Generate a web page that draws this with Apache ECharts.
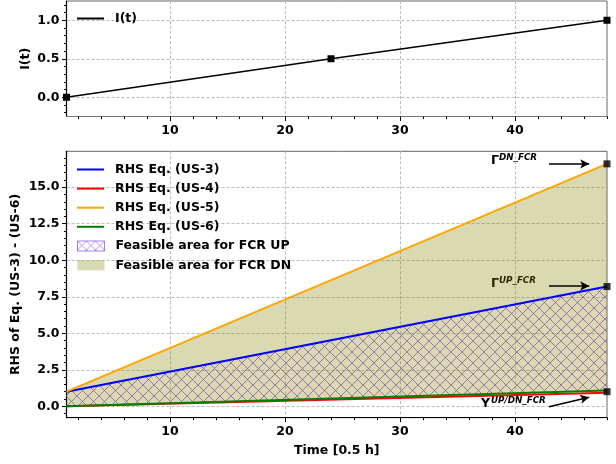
<!DOCTYPE html>
<html><head><meta charset="utf-8">
<script src="https://cdn.jsdelivr.net/npm/echarts@6/dist/echarts.min.js"></script>
<style>html,body{margin:0;padding:0;background:#fff}#c{width:616px;height:464px}</style>
</head><body><div id="c"></div>
<script>
// ---- data ----
const timeTop = [1, 24, 48];
const iT = [0.0, 0.5, 1.0];
const timeBot = [1, 48];
const us3 = [1.0, 8.2];
const us4 = [0.0, 0.92];
const us5 = [1.0, 16.6];
const us6 = [0.0, 1.08];
const markTime = [48, 48, 48];
const markVal = [16.6, 8.2, 1.0];
const xTickLabels = [10, 20, 30, 40];
const yTopTickLabels = [0.0, 0.5, 1.0];
const yBotTickLabels = [0.0, 2.5, 5.0, 7.5, 10.0, 12.5, 15.0];
const lineNames = ['RHS Eq. (US-3)', 'RHS Eq. (US-4)', 'RHS Eq. (US-5)', 'RHS Eq. (US-6)'];
const areaNames = ['Feasible area for FCR UP', 'Feasible area for FCR DN'];

// ---- helpers ----
const FONT = 'DejaVu Sans';
const pts = (xs, ys) => xs.map((x, i) => [x, ys[i]]);
function range(a, b, s, skip) { const r = []; for (let k = 0; a + k * s <= b + 1e-9; k++) { const v = +(a + k * s).toFixed(4); if (!skip.some(m => Math.abs(m - v) < 1e-6)) r.push(v); } return r; }
const xMinor = range(2, 48, 2, xTickLabels);
const yTopMinor = range(-0.2, 1.2, 0.1, yTopTickLabels);
const yBotMinor = range(-0.5, 17.0, 0.5, yBotTickLabels);

function hatch(size, color, lw, bg) {
  const c = document.createElement('canvas'); c.width = c.height = size;
  const g = c.getContext('2d');
  if (bg) { g.fillStyle = bg; g.fillRect(0, 0, size, size); }
  g.strokeStyle = color; g.lineWidth = lw; g.beginPath();
  g.moveTo(-1, -1); g.lineTo(size + 1, size + 1);
  g.moveTo(size + 1, -1); g.lineTo(-1, size + 1);
  g.stroke(); return c;
}
const hatchPlot = { image: hatch(11, 'rgba(140,80,170,0.75)', 1), repeat: 'repeat' };
const hatchLegend = { image: hatch(9, 'rgba(150,90,230,0.65)', 1, '#fff'), repeat: 'repeat' };
const OLIVE = 'rgba(128,128,0,0.3)';

const grids = [
  { left: 66.5, right: 9, top: 1, height: 115.5, show: true, borderColor: '#666', borderWidth: 1, backgroundColor: 'transparent' },
  { left: 66.5, right: 9, top: 151.3, height: 266.4, show: true, borderColor: '#666', borderWidth: 1, backgroundColor: 'transparent' }
];
const labelStyle = { color: '#000', fontWeight: 'bold', fontSize: 12.5, fontFamily: FONT };
const gridLine = { show: true, lineStyle: { color: '#bbb', type: [3, 2], width: 1 } };

function xMajor(gi, name, lineColor) {
  return { type: 'value', gridIndex: gi, min: 1, max: 48, position: 'bottom',
    name: name, nameLocation: 'middle', nameGap: 27, nameTextStyle: labelStyle,
    axisLine: { show: true, onZero: false, lineStyle: { color: lineColor, width: 1.2 } },
    axisTick: { show: true, length: 4.5, customValues: xTickLabels, lineStyle: { color: '#000' } },
    axisLabel: { ...labelStyle, margin: 8, customValues: xTickLabels, formatter: v => String(v) },
    splitLine: gridLine };
}
function xMinorAx(gi) {
  return { type: 'value', gridIndex: gi, min: 1, max: 48, position: 'bottom',
    axisLine: { show: false, onZero: false },
    axisTick: { show: true, length: 2.5, customValues: xMinor, lineStyle: { color: '#000' } },
    axisLabel: { show: false }, splitLine: { show: false } };
}
function yMajor(gi, min, max, ticks, name, gap) {
  return { type: 'value', gridIndex: gi, min: min, max: max, position: 'left',
    name: name, nameLocation: 'middle', nameGap: gap, nameRotate: 90, nameTextStyle: labelStyle,
    nameMoveOverlap: false,
    axisLine: { show: true, onZero: false, lineStyle: { color: '#000', width: 1.2 } },
    axisTick: { show: true, length: 4.5, customValues: ticks, lineStyle: { color: '#000' } },
    axisLabel: { ...labelStyle, margin: 7, customValues: ticks, formatter: v => (+v).toFixed(1) },
    splitLine: gridLine };
}
function yMinorAx(gi, min, max, ticks) {
  return { type: 'value', gridIndex: gi, min: min, max: max, position: 'left',
    axisLine: { show: false, onZero: false },
    axisTick: { show: true, length: 2.5, customValues: ticks, lineStyle: { color: '#000' } },
    axisLabel: { show: false }, splitLine: { show: false } };
}

// filled band between two lines, drawn through the axis scales
function band(name, lower, upper, fill, z) {
  return { name: name, type: 'custom', coordinateSystem: 'cartesian2d', xAxisIndex: 2, yAxisIndex: 2,
    silent: true, z: z, data: [[timeBot[0], upper[0]]], itemStyle: { color: '#999' },
    renderItem: function (params, api) {
      const top = timeBot.map((t, i) => api.coord([t, upper[i]]));
      const bot = timeBot.map((t, i) => api.coord([t, lower[i]])).reverse();
      return { type: 'polygon', shape: { points: top.concat(bot) }, style: { fill: fill, stroke: null } };
    } };
}

const legendText = { ...labelStyle, padding: [0, 0, 0, 6] };

const option = {
  animation: false,
  backgroundColor: '#fff',
  grid: grids,
  xAxis: [xMajor(0, '', '#777'), xMinorAx(0), xMajor(1, 'Time [0.5 h]', '#000'), xMinorAx(1)],
  yAxis: [
    yMajor(0, -0.25, 1.25, yTopTickLabels, 'I(t)', 34), yMinorAx(0, -0.25, 1.25, yTopMinor),
    yMajor(1, -0.78, 17.46, yBotTickLabels, 'RHS of Eq. (US-3) - (US-6)', 44), yMinorAx(1, -0.78, 17.46, yBotMinor)
  ],
  legend: [
    { data: [{ name: 'I(t)', icon: 'rect', itemStyle: { color: '#000' } }], orient: 'vertical', left: 77, top: 12, padding: 0,
      itemWidth: 27, itemHeight: 2, itemGap: 6, textStyle: legendText, selectedMode: false },
    { data: lineNames.map(n => ({ name: n, icon: 'rect' })), orient: 'vertical', left: 77, top: 163, padding: 0,
      itemWidth: 27, itemHeight: 2, itemGap: 6.1, textStyle: legendText, selectedMode: false },
    { data: [
        { name: areaNames[0], icon: 'rect', itemStyle: { color: hatchLegend, borderColor: 'rgba(150,90,230,0.8)', borderWidth: 1 } },
        { name: areaNames[1], icon: 'rect', itemStyle: { color: OLIVE } }
      ], orient: 'vertical', left: 77, top: 239.5, padding: 0, itemWidth: 27, itemHeight: 10, itemGap: 6.3,
      textStyle: legendText, selectedMode: false }
  ],
  series: [
    { name: 'I(t)', type: 'line', xAxisIndex: 0, yAxisIndex: 0, data: pts(timeTop, iT),
      symbol: 'rect', symbolSize: 7, showAllSymbol: true, itemStyle: { color: '#000' },
      lineStyle: { color: '#000', width: 1.6 }, z: 5 },
    band(areaNames[1], us6, us5, OLIVE, 2),
    band(areaNames[0], us6, us3, hatchPlot, 3),
    { name: lineNames[0], type: 'line', xAxisIndex: 2, yAxisIndex: 2, data: pts(timeBot, us3), symbol: 'none',
      lineStyle: { color: '#0000ff', width: 2 }, itemStyle: { color: '#0000ff' }, z: 6 },
    { name: lineNames[1], type: 'line', xAxisIndex: 2, yAxisIndex: 2, data: pts(timeBot, us4), symbol: 'none',
      lineStyle: { color: '#ff0000', width: 2 }, itemStyle: { color: '#ff0000' }, z: 6 },
    { name: lineNames[2], type: 'line', xAxisIndex: 2, yAxisIndex: 2, data: pts(timeBot, us5), symbol: 'none',
      lineStyle: { color: '#ffa500', width: 2 }, itemStyle: { color: '#ffa500' }, z: 6 },
    { name: lineNames[3], type: 'line', xAxisIndex: 2, yAxisIndex: 2, data: pts(timeBot, us6), symbol: 'none',
      lineStyle: { color: '#008000', width: 2 }, itemStyle: { color: '#008000' }, z: 6 },
    { name: 'markers', type: 'scatter', xAxisIndex: 2, yAxisIndex: 2, data: pts(markTime, markVal),
      symbol: 'rect', symbolSize: 7, itemStyle: { color: '#000' }, z: 8, silent: true,
      markLine: { silent: true, symbol: ['none', 'arrow'], symbolSize: [7, 9], label: { show: false },
        lineStyle: { color: '#000', width: 1.5, type: 'solid' },
        data: [
          [{ coord: [42.96, 16.6] }, { coord: [46.45, 16.6] }],
          [{ coord: [42.96, 8.24] }, { coord: [46.45, 8.24] }],
          [{ coord: [42.96, -0.03] }, { coord: [46.45, 0.62] }]
        ] } }
  ],
  graphic: [
    { type: 'text', x: 491, y: 167.5, silent: true, style: { text: 'Γ', font: 'bold 12.5px "DejaVu Sans"', fill: '#000', verticalAlign: 'bottom' } },
    { type: 'text', x: 499, y: 162.5, silent: true, style: { text: 'DN_FCR', font: 'italic bold 8.75px "DejaVu Sans"', fill: '#000', verticalAlign: 'bottom' } },
    { type: 'text', x: 491, y: 290, silent: true, style: { text: 'Γ', font: 'bold 12.5px "DejaVu Sans"', fill: '#000', verticalAlign: 'bottom' } },
    { type: 'text', x: 499, y: 285.5, silent: true, style: { text: 'UP_FCR', font: 'italic bold 8.75px "DejaVu Sans"', fill: '#000', verticalAlign: 'bottom' } },
    { type: 'text', x: 481, y: 410, silent: true, style: { text: 'Υ', font: 'bold 12.5px "DejaVu Sans"', fill: '#000', verticalAlign: 'bottom' } },
    { type: 'text', x: 491, y: 405.5, silent: true, style: { text: 'UP/DN_FCR', font: 'italic bold 8.75px "DejaVu Sans"', fill: '#000', verticalAlign: 'bottom' } }
  ]
};
const chart = echarts.init(document.getElementById('c'), null, { renderer: 'canvas' });
chart.setOption(option);
</script></body></html>
